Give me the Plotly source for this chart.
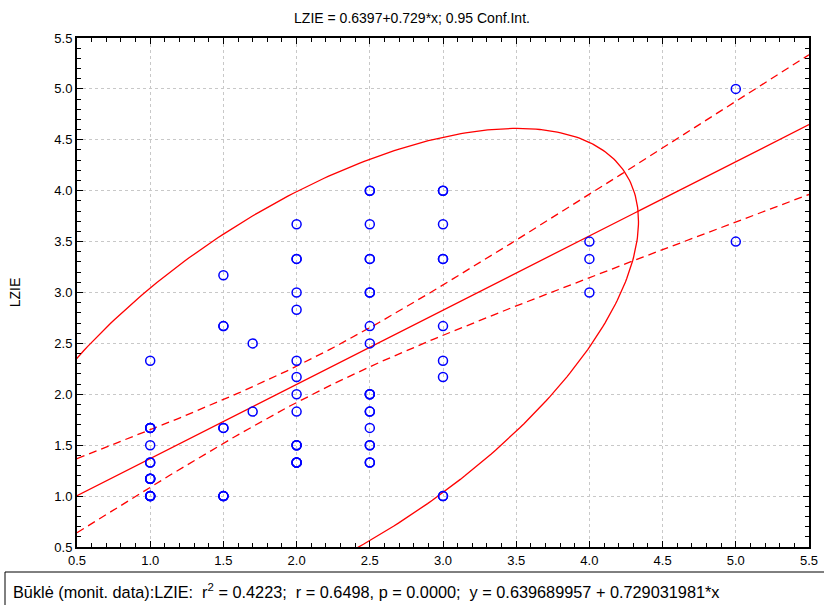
import numpy as np
import plotly.graph_objects as go

# ---- data (overlapping circles counted as repeated values) ----
x_vals = [1.0]*17 + [1.5]*9 + [1.7]*2 + [2.0]*16 + [2.5]*19 + [3.0]*10 + [4.0]*3 + [5.0]*2
y_vals = (
    [2.33, 1.67, 1.67, 1.67, 1.67, 1.5, 1.33, 1.33, 1.17, 1.17, 1.17, 1.17, 1.0, 1.0, 1.0, 1.0, 1.0]
    + [3.17, 2.67, 2.67, 1.67, 1.67, 1.0, 1.0, 1.0, 1.0]
    + [2.5, 1.83]
    + [3.67, 3.33, 3.33, 3.0, 2.83, 2.33, 2.17, 2.0, 1.83, 1.5, 1.5, 1.5, 1.33, 1.33, 1.33, 1.33]
    + [4.0, 4.0, 3.67, 3.33, 3.33, 3.0, 3.0, 2.67, 2.5, 2.0, 2.0, 2.0, 1.83, 1.83, 1.67, 1.5, 1.5,
       1.33, 1.33]
    + [4.0, 4.0, 3.67, 3.33, 3.33, 2.67, 2.33, 2.17, 1.0, 1.0]
    + [3.5, 3.33, 3.0]
    + [5.0, 3.5]
)
intercept = 0.639689957
slope = 0.729031981
t_crit = 1.99       # t(0.975, n-2)
chi2_95 = 5.991     # chi-square(0.95, 2)

title_text = "LZIE = 0.6397+0.729*x; 0.95 Conf.Int."
footer_text = ("Būklė (monit. data):LZIE:  r<sup>2</sup> = 0.4223;  r = 0.6498, p = 0.0000;  "
               "y = 0.639689957 + 0.729031981*x")

x = np.array(x_vals)
y = np.array(y_vals)
n = len(x)
xbar, ybar = x.mean(), y.mean()
Sxx = ((x - xbar) ** 2).sum()
resid = y - (intercept + slope * x)
s = np.sqrt((resid ** 2).sum() / (n - 2))

xs = np.linspace(0.5, 5.5, 200)
yfit = intercept + slope * xs
half = t_crit * s * np.sqrt(1.0 / n + (xs - xbar) ** 2 / Sxx)

# 95% ellipse from the sample covariance
cov = np.cov(x, y)
vals, vecs = np.linalg.eigh(cov)
th = np.linspace(0, 2 * np.pi, 400)
circ = np.vstack([np.cos(th), np.sin(th)])
ell = vecs @ (np.sqrt(vals * chi2_95)[:, None] * circ)
ex = ell[0] + xbar
ey = ell[1] + ybar

red = "#ff0000"
FONT = "Liberation Sans, Arial"
fig = go.Figure()
fig.add_trace(go.Scatter(x=ex, y=ey, mode="lines", line=dict(color=red, width=1.3), hoverinfo="skip"))
fig.add_trace(go.Scatter(x=xs, y=yfit + half, mode="lines", line=dict(color=red, width=1.3, dash="8px,5px")))
fig.add_trace(go.Scatter(x=xs, y=yfit - half, mode="lines", line=dict(color=red, width=1.3, dash="8px,5px")))
fig.add_trace(go.Scatter(x=xs, y=yfit, mode="lines", line=dict(color=red, width=1.3)))
fig.add_trace(go.Scatter(x=x, y=y, mode="markers",
                         marker=dict(symbol="circle-open", size=9, color="#0000ff", line=dict(width=1.5))))

axis_common = dict(
    showline=True, linecolor="black", linewidth=2, mirror="allticks",
    ticks="inside", ticklen=6, tickcolor="black", tickwidth=1,
    showgrid=True, gridcolor="#c8c8c8", griddash="dot", gridwidth=1,
    zeroline=False, dtick=0.5, tickformat=".1f", automargin=False,
    tickfont=dict(family=FONT, size=13, color="black"),
    minor=dict(dtick=0.1, ticks="inside", ticklen=4, tickcolor="black", showgrid=False),
)
fig.update_xaxes(range=[0.5, 5.5], tick0=0.5, **axis_common)
fig.update_yaxes(range=[0.5, 5.5], tick0=0.5, **axis_common,
                 title=dict(text="LZIE", font=dict(family=FONT, size=14, color="black"),
                            standoff=30))

fig.update_layout(
    width=824, height=605, showlegend=False,
    plot_bgcolor="white", paper_bgcolor="white",
    margin=dict(l=77, r=15, t=38, b=58),
    title=dict(text=title_text, x=0.5, xanchor="center", y=0.97, yanchor="middle",
               font=dict(family=FONT, size=14, color="black")),
)

def py2paper(py):
    return (547 - py) / 509.0

def px2paper(px):
    return (px - 77) / 732.0

fig.add_shape(type="rect", xref="paper", yref="paper",
              x0=px2paper(5), x1=px2paper(840), y0=py2paper(620), y1=py2paper(572),
              line=dict(color="black", width=1), fillcolor="white", layer="above")
fig.add_annotation(text=footer_text, xref="paper", yref="paper",
                   x=px2paper(11), y=py2paper(591), xanchor="left", yanchor="middle",
                   showarrow=False, font=dict(family=FONT, size=16.3, color="black"))

fig.write_html("out.html")
